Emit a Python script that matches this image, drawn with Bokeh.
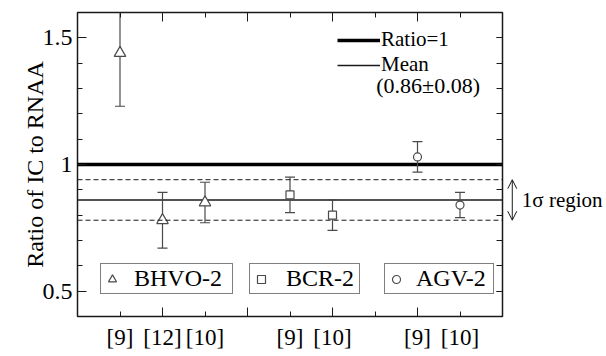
from bokeh.plotting import figure
from bokeh.layouts import row
from bokeh.models import (Range1d, FixedTicker, LinearAxis, Span, Legend, LegendItem,
                          Label, Arrow, OpenHead)
from bokeh.embed import file_html
from bokeh.resources import INLINE

# ---------------- data ----------------
bhvo_x = [1, 2, 3]
bhvo_ratio = [1.44, 0.78, 0.85]
bhvo_err = [0.21, 0.11, 0.08]

bcr_x = [5, 6]
bcr_ratio = [0.88, 0.80]
bcr_err = [0.07, 0.06]

agv_x = [8, 9]
agv_ratio = [1.03, 0.84]
agv_err = [0.06, 0.05]

ref_ticks = [1, 2, 3, 5, 6, 8, 9]
ref_labels = ["[9]", "[12]", "[10]", "[9]", "[10]", "[9]", "[10]"]

ratio_one = 1.0
mean_ratio = 0.86
sd_ratio = 0.08

x_lo, x_hi = 0, 10
y_lo, y_hi = 0.4, 1.6
x_major = [0, 2, 4, 6, 8, 10]
x_minor = [1, 3, 5, 7, 9]
y_major = [0.5, 1, 1.5]
y_major_labels = ["0.5", "1", "1.5"]
y_minor = [0.4, 0.5, 0.6, 0.7, 0.8, 0.9, 1.0, 1.1, 1.2, 1.3, 1.4, 1.5, 1.6]

# ---------------- styling ----------------
FONT = "Liberation Serif"
INK = "#1a1a1a"
GRAY = "#4a4a4a"
FIG_H = 352
BOTTOM = 36

p = figure(width=506, height=FIG_H, x_range=Range1d(x_lo, x_hi), y_range=Range1d(y_lo, y_hi),
           x_axis_type=None, y_axis_type=None, output_backend="svg", toolbar_location=None,
           min_border_left=77, min_border_right=4, min_border_top=12, min_border_bottom=BOTTOM)
p.grid.visible = False
p.outline_line_color = INK
p.outline_line_width = 1.5
p.background_fill_color = "white"
p.border_fill_color = "white"


def tick_style(ax, major_in, minor_in):
    ax.major_tick_in = major_in
    ax.major_tick_out = 0
    ax.minor_tick_in = minor_in
    ax.minor_tick_out = 0
    ax.major_tick_line_color = INK
    ax.minor_tick_line_color = INK
    ax.axis_line_color = None


def hide_labels(ax):
    ax.major_label_text_font_size = "1px"
    ax.major_label_text_color = None
    ax.major_label_text_alpha = 0
    ax.major_label_standoff = 0


# left axis
yl = LinearAxis(ticker=FixedTicker(ticks=y_major, minor_ticks=y_minor),
                major_label_overrides=dict(zip(y_major, y_major_labels)),
                axis_label="Ratio of IC to RNAA")
tick_style(yl, 9, 5)
yl.major_label_standoff = 5
yl.major_label_text_font = FONT
yl.major_label_text_font_size = "24px"
yl.major_label_text_color = "black"
yl.axis_label_text_font = FONT
yl.axis_label_text_font_size = "24px"
yl.axis_label_text_font_style = "normal"
yl.axis_label_text_color = "black"
yl.axis_label_standoff = -8
p.add_layout(yl, "left")

# right axis (ticks only)
yr = LinearAxis(ticker=FixedTicker(ticks=y_major, minor_ticks=y_minor))
tick_style(yr, 6, 6)
hide_labels(yr)
p.add_layout(yr, "right")

# top axis (ticks only)
xt = LinearAxis(ticker=FixedTicker(ticks=x_major, minor_ticks=x_minor))
tick_style(xt, 9, 5)
hide_labels(xt)
p.add_layout(xt, "above")

# bottom axis (ticks only)
xb = LinearAxis(ticker=FixedTicker(ticks=x_major, minor_ticks=x_minor))
tick_style(xb, 9, 5)
hide_labels(xb)
p.add_layout(xb, "below")

# bottom reference labels
xr = LinearAxis(ticker=FixedTicker(ticks=ref_ticks),
                major_label_overrides=dict(zip(ref_ticks, ref_labels)))
xr.major_tick_in = 0
xr.major_tick_out = 0
xr.minor_tick_in = 0
xr.minor_tick_out = 0
xr.axis_line_color = None
xr.major_tick_line_color = None
xr.minor_tick_line_color = None
xr.major_label_standoff = 8
xr.major_label_text_font = FONT
xr.major_label_text_font_size = "23px"
xr.major_label_text_color = "black"
p.add_layout(xr, "below")

# ---------------- reference lines ----------------
ratio_r = p.line(x=[x_lo, x_hi], y=[ratio_one, ratio_one], line_color="black", line_width=3.3)
mean_r = p.line(x=[x_lo, x_hi], y=[mean_ratio, mean_ratio], line_color=INK, line_width=1.5)
for loc in (mean_ratio + sd_ratio, mean_ratio - sd_ratio):
    p.add_layout(Span(location=loc, dimension="width", line_color=INK, line_width=1,
                      line_dash="5 3"))


# ---------------- error bars & markers ----------------
def errbars(xs, ys, es):
    lo = [y - e for y, e in zip(ys, es)]
    hi = [y + e for y, e in zip(ys, es)]
    p.segment(x0=xs, y0=lo, x1=xs, y1=hi, line_color=GRAY, line_width=1.2)
    p.scatter(x=xs + xs, y=lo + hi, marker="dash", size=10, line_color=GRAY, line_width=1.2)


errbars(bhvo_x, bhvo_ratio, bhvo_err)
errbars(bcr_x, bcr_ratio, bcr_err)
errbars(agv_x, agv_ratio, agv_err)

tri = p.scatter(bhvo_x, bhvo_ratio, marker="triangle", size=11.5, fill_color="white",
                line_color=GRAY, line_width=1.2)
sq = p.scatter(bcr_x, bcr_ratio, marker="square", size=8, fill_color="white",
               line_color=GRAY, line_width=1.2)
ci = p.scatter(agv_x, agv_ratio, marker="circle", size=8, fill_color="white",
               line_color=GRAY, line_width=1.2)

# ---------------- legends ----------------
leg_top = Legend(items=[LegendItem(label="Ratio=1", renderers=[ratio_r]),
                        LegendItem(label="Mean", renderers=[mean_r])],
                 location=(260, 239), glyph_width=43, glyph_height=20, label_height=20,
                 label_standoff=1, spacing=-3, padding=0, margin=0,
                 border_line_color=None, background_fill_alpha=0,
                 label_text_font=FONT, label_text_font_size="21px", label_text_color="black")
p.add_layout(leg_top)

p.add_layout(Label(x=7.03, y=1.312, text=f"({mean_ratio:.2f}\u00b1{sd_ratio:.2f})",
                   text_baseline="middle", text_font=FONT, text_font_size="22px",
                   text_color="black"))

for label, rend, loc, standoff, lw in (("BHVO-2", tri, (23, 22), 12, 97),
                                       ("BCR-2", sq, (172, 22), 15, 72),
                                       ("AGV-2", ci, (307, 22), 10, 76)):
    lg = Legend(items=[LegendItem(label=label, renderers=[rend])], location=loc,
                glyph_width=20, glyph_height=20, label_height=16, label_width=lw,
                label_standoff=standoff, padding=1, margin=0,
                border_line_color="black", border_line_width=1,
                background_fill_color="white", background_fill_alpha=1,
                label_text_font=FONT, label_text_font_size="24px", label_text_color="black")
    p.add_layout(lg)

# ---------------- 1 sigma annotation (side panel sharing the y scale) ----------------
side_w = 98
q = figure(width=side_w, height=FIG_H, x_range=Range1d(x_hi + 4 / 42.5, x_hi + (4 + side_w) / 42.5),
           y_range=p.y_range, x_axis_type=None, y_axis_type=None, output_backend="svg",
           toolbar_location=None, min_border_left=0, min_border_right=0,
           min_border_top=12, min_border_bottom=BOTTOM)
q.grid.visible = False
q.outline_line_color = None
q.background_fill_color = "white"
q.border_fill_color = "white"

q.add_layout(Arrow(x_start=10.23, y_start=mean_ratio - sd_ratio, x_end=10.23,
                   y_end=mean_ratio + sd_ratio, line_color=INK, line_width=1,
                   start=OpenHead(size=9, line_color=INK, line_width=1),
                   end=OpenHead(size=9, line_color=INK, line_width=1)))
q.add_layout(Label(x=10.455, y=mean_ratio, text="1\u03c3 region", text_baseline="middle",
                   text_font=FONT, text_font_size="21px", text_color="black"))

layout = row(p, q, spacing=0)

with open("out.html", "w") as f:
    f.write(file_html(layout, INLINE))
